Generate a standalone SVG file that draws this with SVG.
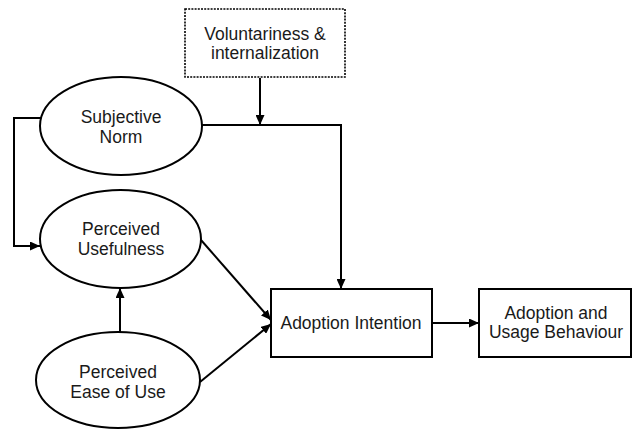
<svg xmlns="http://www.w3.org/2000/svg" width="632" height="430" viewBox="0 0 632 430">
  <style>
    .shape { fill: #ffffff; stroke: #000000; stroke-width: 2; }
    .dotted { fill: #ffffff; stroke: #000000; stroke-width: 1.6; stroke-dasharray: 2 1.2; }
    .label { font-family: "Liberation Sans", Arial, sans-serif; font-size: 17.5px; fill: #1a1a1a; text-anchor: middle; }
    .wire { fill: none; stroke: #000000; stroke-width: 2; }
  </style>
  <defs>
    <marker id="arrow" markerUnits="userSpaceOnUse" markerWidth="10" markerHeight="9" refX="10" refY="4.5" orient="auto">
      <path d="M0,0 L10,4.5 L0,9 z" fill="#000000"/>
    </marker>
  </defs>

  <!-- connectors -->
  <g id="connectors">
    <polyline class="wire" points="202,125 341,125 341,289" marker-end="url(#arrow)"/>
    <line class="wire" x1="260" y1="78" x2="260" y2="125" marker-end="url(#arrow)"/>
    <polyline class="wire" points="41,118 14,118 14,246 40,246" marker-end="url(#arrow)"/>
    <line class="wire" x1="120" y1="332" x2="120" y2="288" marker-end="url(#arrow)"/>
    <line class="wire" x1="201" y1="240" x2="271" y2="320" marker-end="url(#arrow)"/>
    <line class="wire" x1="200" y1="382" x2="271" y2="324" marker-end="url(#arrow)"/>
    <line class="wire" x1="432" y1="323" x2="479" y2="323" marker-end="url(#arrow)"/>
  </g>

  <g id="voluntariness">
    <rect class="dotted" x="185" y="9" width="160" height="68"/>
    <text class="label" x="265" y="40">Voluntariness &amp;</text>
    <text class="label" x="265" y="59">internalization</text>
  </g>

  <g id="subjective-norm">
    <ellipse class="shape" cx="121" cy="126" rx="81" ry="49"/>
    <text class="label" x="121" y="123">Subjective</text>
    <text class="label" x="121" y="143">Norm</text>
  </g>

  <g id="perceived-usefulness">
    <ellipse class="shape" cx="120.5" cy="239" rx="80.5" ry="49"/>
    <text class="label" x="121" y="235">Perceived</text>
    <text class="label" x="121" y="255">Usefulness</text>
  </g>

  <g id="perceived-ease-of-use">
    <ellipse class="shape" cx="118" cy="380" rx="82" ry="48"/>
    <text class="label" x="118" y="378">Perceived</text>
    <text class="label" x="118" y="398">Ease of Use</text>
  </g>

  <g id="adoption-intention">
    <rect class="shape" x="271" y="289" width="161" height="68"/>
    <text class="label" x="351" y="329">Adoption Intention</text>
  </g>

  <g id="adoption-usage">
    <rect class="shape" x="479" y="289" width="152" height="68"/>
    <text class="label" x="556" y="319">Adoption and</text>
    <text class="label" x="556" y="338">Usage Behaviour</text>
  </g>
</svg>
